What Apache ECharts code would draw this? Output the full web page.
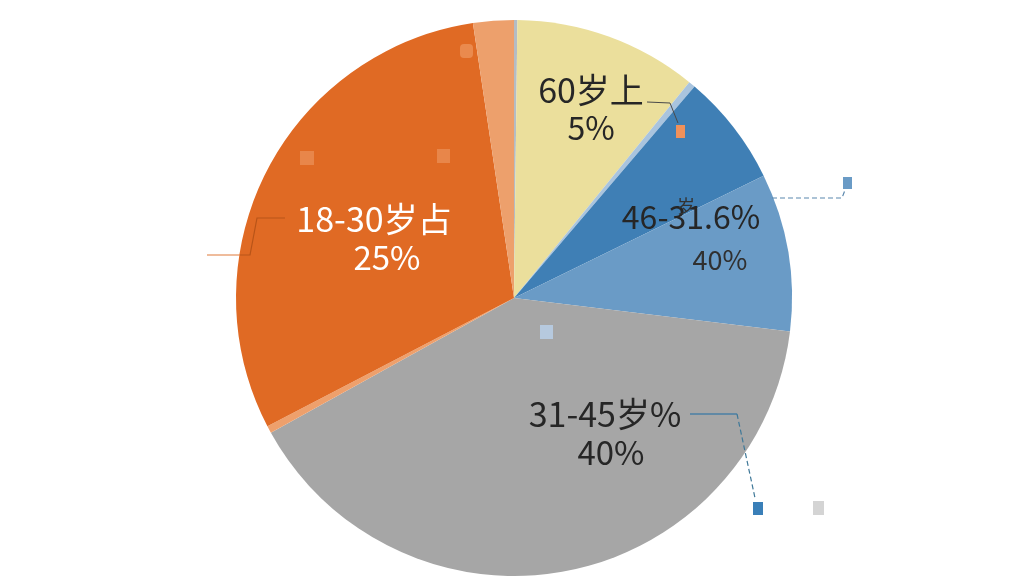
<!DOCTYPE html>
<html><head><meta charset="utf-8">
<script src="https://cdn.jsdelivr.net/npm/echarts@6/dist/echarts.min.js"></script>
<style>html,body{margin:0;padding:0;background:#fff}#c{width:1024px;height:576px}</style>
</head><body><div id="c"></div>
<script>
const categories = ['分隔线','60岁上','浅蓝条','46-31.6%','46-40%','31-45岁%','浅橙条','18-30岁占','浅橙'];
const values = [0.7, 38.4, 1.4, 23.4, 33.0, 144.1, 1.5, 109.0, 8.5];
const titleLabels = ['', '60岁上', '', '46-31.6%', '', '31-45岁%', '', '18-30岁占', ''];
const pctLabels = ['', '5%', '', '', '40%', '40%', '', '25%', ''];
const colors = ['#b4bcc4','#ebdf9c','#a9c4de','#3f7fb5','#6a9bc6','#a6a6a6','#eea06c','#e06a24','#eda06c'];
const labelPos = [null,[591,109],null,[691,217],[720,260],[605,433],null,[374,238],null];
const titleStyle = [null,'t',null,'t2',null,'t',null,'w',null];
const pctStyle = [null,'p',null,null,'p2','p3',null,'wp',null];

const FONT = '"Noto Sans CJK SC","Noto Sans",sans-serif';
const chart = echarts.init(document.getElementById('c'));
chart.setOption({
  animation: false,
  series: [{
    type: 'pie',
    center: [514, 298],
    radius: 278,
    startAngle: 90,
    clockwise: true,
    avoidLabelOverlap: false,
    silent: true,
    data: categories.map((n, i) => ({ name: n, value: values[i], itemStyle: { color: colors[i] } })),
    label: {
      show: true,
      position: 'inside',
      fontFamily: FONT,
      formatter: function (p) {
        const i = p.dataIndex;
        const parts = [];
        if (titleLabels[i]) parts.push('{' + titleStyle[i] + '|' + titleLabels[i] + '}');
        if (pctLabels[i]) parts.push('{' + pctStyle[i] + '|' + pctLabels[i] + '}');
        return parts.join('\n');
      },
      rich: {
        t: { fontSize: 34, color: '#262626', lineHeight: 38, fontFamily: FONT },
        p: { fontSize: 32, color: '#262626', lineHeight: 38, fontFamily: FONT },
        t2: { fontSize: 32, color: '#262626', lineHeight: 36, fontFamily: FONT },
        p2: { fontSize: 27, color: '#303030', lineHeight: 30, fontFamily: FONT },
        p3: { fontSize: 33, color: '#262626', lineHeight: 38, fontFamily: FONT, padding: [0, 0, 0, 12] },
        w: { fontSize: 34, color: '#ffffff', lineHeight: 38, fontFamily: FONT },
        wp: { fontSize: 33, color: '#ffffff', lineHeight: 38, fontFamily: FONT, padding: [0, 0, 0, 26] }
      }
    },
    labelLine: { show: false },
    labelLayout: function (params) {
      const pos = labelPos[params.dataIndex];
      if (!pos) return {};
      return { x: pos[0], y: pos[1], align: 'center', verticalAlign: 'middle' };
    }
  }],
  graphic: [
    { type: 'polyline', z: 100, shape: { points: [[647,102],[670,103],[678,123]] }, style: { stroke: '#4a4a4a', lineWidth: 1, fill: null } },
    { type: 'rect', z: 100, shape: { x: 676, y: 125, width: 9, height: 13 }, style: { fill: '#f0915a' } },
    { type: 'polyline', z: 100, shape: { points: [[772,198],[842,198],[845,190]] }, style: { stroke: '#5a87ad', lineWidth: 1.2, lineDash: [5,3], fill: null } },
    { type: 'rect', z: 100, shape: { x: 843, y: 177, width: 9, height: 12 }, style: { fill: '#6a9bc6' } },
    { type: 'polyline', z: 100, shape: { points: [[285,218],[257,218],[250,255],[240,255]] }, style: { stroke: '#b85418', lineWidth: 1.2, fill: null } },
    { type: 'polyline', z: 100, shape: { points: [[240,255],[207,255]] }, style: { stroke: '#e07a3a', lineWidth: 1.2, fill: null } },
    { type: 'polyline', z: 100, shape: { points: [[690,414],[737,414]] }, style: { stroke: '#4a7fa5', lineWidth: 1.5, fill: null } },
    { type: 'polyline', z: 100, shape: { points: [[737,414],[755,498]] }, style: { stroke: '#3f7898', lineWidth: 1.2, lineDash: [5,3], fill: null } },
    { type: 'rect', z: 100, shape: { x: 753, y: 502, width: 10, height: 13 }, style: { fill: '#3a7fb8' } },
    { type: 'rect', z: 100, shape: { x: 813, y: 501, width: 11, height: 14 }, style: { fill: '#d4d4d4' } },
    { type: 'rect', z: 100, shape: { x: 460, y: 44, width: 13, height: 14, r: 4 }, style: { fill: '#ea8a4e' } },
    { type: 'rect', z: 100, shape: { x: 300, y: 151, width: 14, height: 14 }, style: { fill: '#e8864a' } },
    { type: 'rect', z: 100, shape: { x: 437, y: 149, width: 13, height: 14 }, style: { fill: '#e8864a' } },
    { type: 'rect', z: 100, shape: { x: 540, y: 325, width: 13, height: 14 }, style: { fill: '#b6c9de' } },
    { type: 'text', z: 101, x: 677, y: 197, style: { text: '岁', fontSize: 18, fontFamily: FONT, fill: '#333333' } }
  ]
});
</script></body></html>
